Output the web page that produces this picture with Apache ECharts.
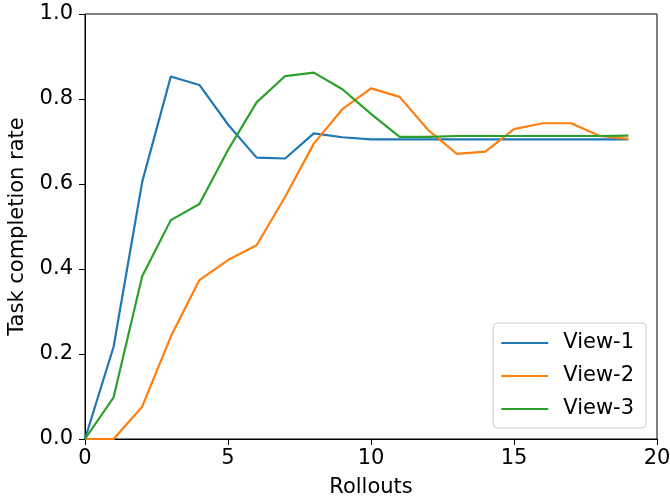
<!DOCTYPE html>
<html>
<head>
<meta charset="utf-8">
<script src="https://cdn.jsdelivr.net/npm/echarts@6/dist/echarts.min.js"></script>
<style>html,body{margin:0;padding:0;background:#fff}#c{width:670px;height:499px}</style>
</head>
<body>
<div id="c"></div>
<script>
const rollouts = [0,1,2,3,4,5,6,7,8,9,10,11,12,13,14,15,16,17,18,19];
const view1 = [0.0,0.217,0.605,0.853,0.833,0.740,0.662,0.660,0.719,0.710,0.705,0.705,0.705,0.705,0.705,0.705,0.705,0.705,0.705,0.705];
const view2 = [0.0,0.0,0.076,0.241,0.374,0.421,0.456,0.570,0.695,0.776,0.825,0.805,0.727,0.671,0.676,0.729,0.743,0.743,0.713,0.706];
const view3 = [0.0,0.098,0.383,0.515,0.553,0.680,0.792,0.854,0.862,0.823,0.765,0.711,0.711,0.713,0.713,0.713,0.713,0.713,0.713,0.714];
const seriesNames = ['View-1','View-2','View-3'];
const colors = ['#1f77b4','#ff7f0e','#2ca02c'];
const xTicks = [0,5,10,15,20];
const yTicks = [0.0,0.2,0.4,0.6,0.8,1.0];

const font = 'DejaVu Sans';
const fs = 21;
const chart = echarts.init(document.getElementById('c'));
const data = [view1, view2, view3];
chart.setOption({
  animation: false,
  textStyle: {fontFamily: font},
  grid: {left: 85, right: 13, top: 14, bottom: 60, show: true, borderColor: '#000', borderWidth: 1,
    containLabel: false, outerBoundsMode: 'none'},
  xAxis: {
    type: 'value', min: 0, max: 20, interval: 5,
    name: 'Rollouts', nameLocation: 'middle', nameGap: 38,
    nameTextStyle: {fontSize: fs, color: '#000', fontFamily: font},
    axisLine: {show: true, lineStyle: {color: '#000', width: 1}},
    axisTick: {show: true, inside: false, length: 6, lineStyle: {color: '#000'}},
    axisLabel: {fontSize: fs, color: '#000', margin: 9, fontFamily: font,
      formatter: v => xTicks.includes(v) ? String(v) : ''},
    splitLine: {show: false}
  },
  yAxis: {
    type: 'value', min: 0, max: 1, interval: 0.2,
    name: 'Task completion rate', nameLocation: 'middle', nameGap: 57,
    nameTextStyle: {fontSize: fs, color: '#000', fontFamily: font},
    axisLine: {show: true, lineStyle: {color: '#000', width: 1}},
    axisTick: {show: true, inside: false, length: 6, lineStyle: {color: '#000'}},
    axisLabel: {fontSize: fs, color: '#000', margin: 12, fontFamily: font,
      formatter: v => yTicks.find(t => Math.abs(t - v) < 1e-9).toFixed(1)},
    splitLine: {show: false}
  },
  legend: {
    orient: 'vertical', right: 24, bottom: 71,
    data: seriesNames,
    backgroundColor: 'rgba(255,255,255,0.8)', borderColor: '#cccccc', borderWidth: 1, borderRadius: 4,
    padding: [8, 12, 7, 8],
    itemGap: 9, itemWidth: 47, itemHeight: 2,
    icon: 'rect',
    textStyle: {fontSize: fs, lineHeight: 24, color: '#000', fontFamily: font, padding: [0,0,0,10]}
  },
  series: data.map((d, i) => ({
    name: seriesNames[i], type: 'line', showSymbol: false, symbol: 'none',
    color: colors[i],
    lineStyle: {width: 2.2, color: colors[i]},
    data: rollouts.map((r, j) => [r, d[j]])
  }))
});
</script>
</body>
</html>
